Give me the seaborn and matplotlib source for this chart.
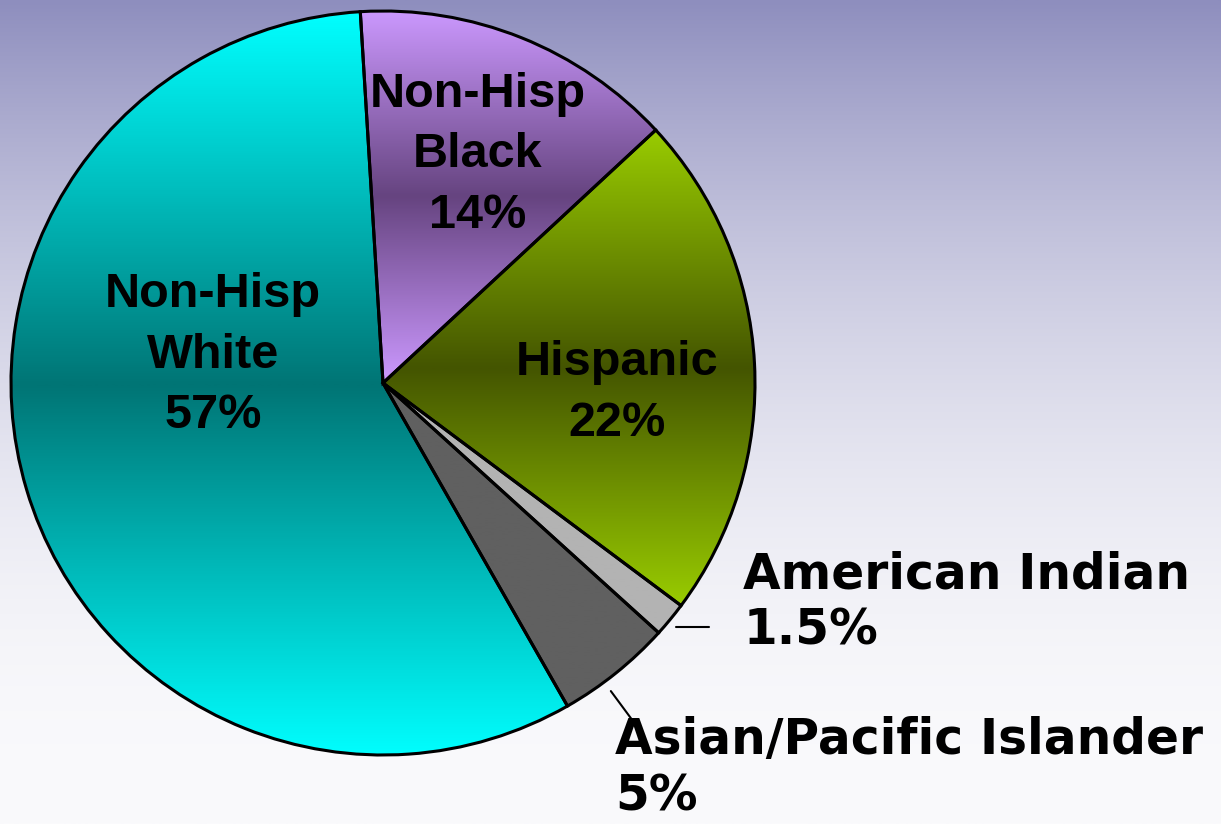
import numpy as np
import matplotlib
matplotlib.use("Agg")
import matplotlib.pyplot as plt
import seaborn as sns

# data
groups = ["Non-Hisp Black", "Hispanic", "American Indian", "Asian/Pacific Islander", "Non-Hisp White"]
shares = [14, 22, 1.5, 5, 57]
share_labels = ["14%", "22%", "1.5%", "5%", "57%"]
inside_labels = ["Non-Hisp\nBlack\n14%", "Hispanic\n22%", None, None, "Non-Hisp\nWhite\n57%"]
outside_labels = [None, None, "American Indian\n1.5%", "Asian/Pacific Islander\n5%", None]

# light (edge) and dark (middle) shade of each slice
light_cols = ["#CC99FF", "#99CC00", "#B3B3B3", "#606060", "#00FFFF"]
dark_cols = ["#664480", "#445500", "#B3B3B3", "#606060", "#007575"]

sns.set_theme(style="white")
plt.rcParams["font.family"] = ["Liberation Sans", "DejaVu Sans"]

fig = plt.figure(figsize=(12.21, 8.24), dpi=100)

# background gradient
bg = fig.add_axes([0, 0, 1, 1])
bg.set_axis_off()
t = np.linspace(0, 1, 400)[:, None]
ease = 1 - (1 - t) ** 2
top = np.array([0x8E, 0x8E, 0xBE]) / 255
bot = np.array([0xFA, 0xFA, 0xFC]) / 255
grad = top + (bot - top) * ease
bg.imshow(grad[:, None, :].repeat(2, axis=1), aspect="auto", extent=(0, 1, 0, 1))

W, H = 1221, 824
cx, cy, r = 383, 383, 372
ax = fig.add_axes([(cx - r) / W, (H - cy - r) / H, 2 * r / W, 2 * r / H])
ax.set_axis_off()

start = 90 + 3.5
wedges, _ = ax.pie(shares, startangle=start, counterclock=False, radius=1,
                   wedgeprops=dict(edgecolor="black", linewidth=2.2, facecolor="none"))
ax.set_xlim(-1, 1)
ax.set_ylim(-1, 1)
ax.set_aspect("equal")

yy = np.linspace(-1, 1, 600)[:, None]
for w, lc, dc in zip(wedges, light_cols, dark_cols):
    verts = w.get_patch_transform().transform(w.get_path().vertices)
    y0, y1 = verts[:, 1].min(), verts[:, 1].max()
    f = np.clip(np.abs(2 * (yy - y0) / (y1 - y0) - 1), 0, 1)
    cmap = sns.blend_palette([dc, lc], n_colors=256, as_cmap=True)
    im = ax.imshow(f, cmap=cmap, vmin=0, vmax=1, extent=(-1, 1, -1, 1),
                   origin="lower", aspect="auto", zorder=0.5)
    im.set_clip_path(w)
    w.set_zorder(1)

# inside labels
inside_pos = [(0.255, 0.613), (0.629, -0.027), None, None, (-0.457, 0.075)]
for lab, pos in zip(inside_labels, inside_pos):
    if lab:
        ax.text(pos[0], pos[1], lab, ha="center", va="center", fontsize=35,
                fontweight="bold", family="Liberation Sans", linespacing=1.45, color="black")

# outside labels with leader lines
outside_pos = [None, None, (0.968, -0.59), (0.624, -1.036), None]
for w, lab, pos in zip(wedges, outside_labels, outside_pos):
    if not lab:
        continue
    mid = np.deg2rad((w.theta1 + w.theta2) / 2)
    if "American" in lab:
        x0, y0 = 1.02 * np.cos(mid), 1.02 * np.sin(mid) - 0.008
        ax.plot([x0, x0 + 0.09], [y0, y0], color="black", lw=1.5, clip_on=False)
    else:
        ax.plot([1.03 * np.cos(mid - 0.04), 1.14 * np.cos(mid - 0.04)],
                [1.03 * np.sin(mid - 0.04), 1.14 * np.sin(mid - 0.04)],
                color="black", lw=1.5, clip_on=False)
    ax.text(pos[0], pos[1], lab, ha="left", va="center", fontsize=35,
            fontweight="bold", family="DejaVu Sans", linespacing=1.22, color="black")

fig.savefig("out.png", dpi=100)
